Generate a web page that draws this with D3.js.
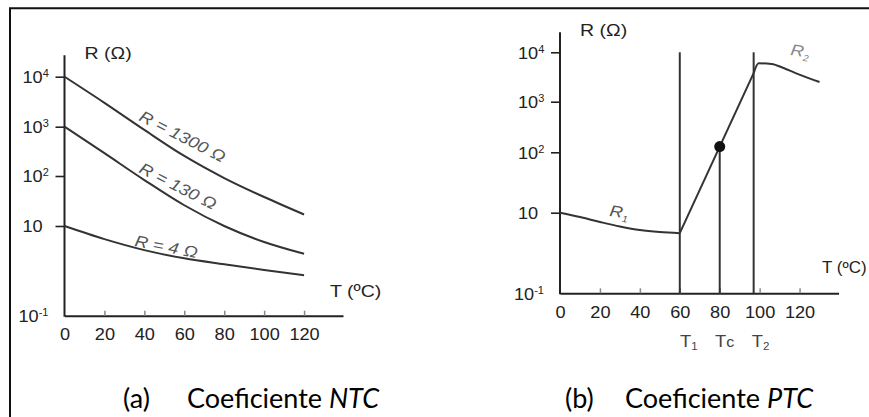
<!DOCTYPE html>
<html>
<head>
<meta charset="utf-8">
<script src="https://cdn.jsdelivr.net/npm/d3@7"></script>
<style>
  body { margin: 0; background: #fff; }
  svg text { font-family: "Liberation Sans", Arial, sans-serif; fill: #222; }
  svg text.caption { font-family: Lato, "Open Sans", sans-serif; fill: #000; }
</style>
</head>
<body>
<script>
// NTC / PTC thermistor curves, R (log) against T

// shared axes
var tempTicks = [0, 20, 40, 60, 80, 100, 120];
var resTicks = [0.1, 10, 100, 1000, 10000];
var resTickBase = ["10", "10", "10", "10", "10"];
var resTickExp = ["-1", "", "2", "3", "4"];

// (a) NTC curves
var ntcTemp = [0, 20, 40, 60, 80, 100, 120];
var ntcR1300 = [10000, 3000, 860, 255, 91, 38, 17];
var ntcR130 = [1000, 290, 83, 26, 10, 4.4, 2.4];
var ntcR4 = [10, 5.1, 2.9, 1.9, 1.4, 1.05, 0.8];
var ntcLabels = ["R = 1300 Ω", "R = 130 Ω", "R = 4 Ω"];

// (b) PTC curve, in three pieces
var ptcLowTemp = [0, 10, 20, 30, 40, 50, 60];
var ptcLowR = [10, 7.8, 5.9, 4.55, 3.7, 3.3, 3.1];
var ptcRiseTemp = [60, 97];
var ptcRiseR = [3.1, 3800];
var ptcHighTemp = [97, 99.5, 106, 112, 118, 130];
var ptcHighR = [3800, 6000, 5800, 4800, 3800, 2500];
var ptcTcTemp = 80, ptcTcR = 130;
var markTemps = [60, 80, 97];
var markSub = ["1", "c", "2"];

var SX = 1.1;   // tick labels, the original figure is a bit wide
var SXL = 1.15; // other labels

var svg = d3.select("body").append("svg")
    .attr("width", 869)
    .attr("height", 417);

// frame (only left and top edges show)
svg.append("path")
    .attr("d", "M10,417V8.3H869")
    .attr("fill", "none")
    .attr("stroke", "#111")
    .attr("stroke-width", 2);

// scales: y works on log10(R)
var xA = d3.scaleLinear().domain([0, 139.5]).range([64.5, 343]);
var yA = d3.scaleLinear().domain([-1, 1, 2, 3, 4]).range([315.7, 226, 176, 126.7, 76.7]);
var xB = d3.scaleLinear().domain([0, 139.5]).range([560, 838.5]);
var yB = d3.scaleLinear().domain([-1, 1, 2, 3, 4]).range([293.3, 212.7, 152.3, 101.7, 52.3]);

function drawAxes(x, y, ext) {
  var g = svg.append("g");

  // x axis, small ticks pointing up
  var xg = g.append("g")
      .attr("transform", "translate(0," + y(-1) + ")")
      .call(d3.axisBottom(x).tickValues(tempTicks).tickSize(-5).tickSizeOuter(0).tickPadding(12.5))
      .attr("font-family", null).attr("font-size", 16.5);
  xg.select(".domain").attr("stroke", "#222").attr("stroke-width", 2);
  xg.selectAll(".tick line").attr("stroke", "#888").attr("stroke-width", 1.5)
      .filter(function(d) { return d === 0; }).remove();
  xg.selectAll(".tick text").attr("fill", null).attr("transform", "scale(" + SX + ",1)");

  // y axis
  var yg = g.append("g")
      .attr("transform", "translate(" + x(0) + ",0)")
      .call(d3.axisLeft(y).tickValues(resTicks.map(Math.log10)).tickSize(9).tickSizeOuter(0))
      .attr("font-family", null).attr("font-size", 16.5);
  yg.select(".domain").remove();
  yg.append("line")
      .attr("y1", y(-1) + 1).attr("y2", y(4) - ext)
      .attr("stroke", "#222").attr("stroke-width", 2);
  yg.selectAll(".tick line").attr("stroke", "#222").attr("stroke-width", 1.6)
      .filter(function(d) { return d === -1; }).remove();
  yg.selectAll(".tick text").each(function(d, i) {
    var t = d3.select(this).text(null)
        .attr("fill", null)
        .attr("text-anchor", "start")
        .attr("x", (i === 0 ? -46 : -42) / SX)
        .attr("dy", "0.36em")
        .attr("transform", "scale(" + SX + ",1)");
    t.append("tspan").text(resTickBase[i]);
    if (resTickExp[i]) {
      t.append("tspan").text(resTickExp[i]).attr("font-size", 10).attr("dy", -6);
    }
  });

  // axis name
  g.append("text")
      .attr("transform", "translate(" + (x(0) + 20) + "," + (y(4) - ext + 4) + ") scale(" + SXL + ",1)")
      .attr("font-size", 17)
      .text("R (Ω)");
  return g;
}

// ---------- (a) NTC ----------
var gA = drawAxes(xA, yA, 21.5);
gA.append("text")
    .attr("transform", "translate(330," + (yA(-1) - 19) + ") scale(" + SXL + ",1)")
    .attr("font-size", 17)
    .text("T (ºC)");

var lineA = d3.line()
    .x(function(d) { return xA(d[0]); })
    .y(function(d) { return yA(Math.log10(d[1])); })
    .curve(d3.curveMonotoneX);

[ntcR1300, ntcR130, ntcR4].forEach(function(series) {
  gA.append("path")
      .datum(d3.zip(ntcTemp, series))
      .attr("d", lineA)
      .attr("fill", "none")
      .attr("stroke", "#333")
      .attr("stroke-width", 2);
});

// curve labels, italic and slanted along the curves
var labelPos = [[138, 120, 27], [138, 172, 27], [134, 246, 11]];
ntcLabels.forEach(function(s, i) {
  var p = labelPos[i];
  gA.append("text")
      .attr("transform", "translate(" + p[0] + "," + p[1] + ") rotate(" + p[2] + ") scale(" + SXL + ",1)")
      .attr("font-size", 16)
      .attr("font-style", "italic")
      .style("fill", "#555")
      .text(s);
});

// ---------- (b) PTC ----------
var gB = drawAxes(xB, yB, 20);
// squeezed a little so it stays inside the page
gB.append("text")
    .attr("transform", "translate(822," + (yB(-1) - 20) + ") scale(1.03,1)")
    .attr("font-size", 16.5)
    .text("T (ºC)");

var lineB = d3.line()
    .x(function(d) { return xB(d[0]); })
    .y(function(d) { return yB(Math.log10(d[1])); })
    .curve(d3.curveMonotoneX);

[[ptcLowTemp, ptcLowR], [ptcRiseTemp, ptcRiseR], [ptcHighTemp, ptcHighR]].forEach(function(p) {
  gB.append("path")
      .datum(d3.zip(p[0], p[1]))
      .attr("d", lineB)
      .attr("fill", "none")
      .attr("stroke", "#333")
      .attr("stroke-width", 2)
      .attr("stroke-linejoin", "round");
});

// T1 and T2 full height lines, Tc from the point down
gB.selectAll(".mark")
    .data(markTemps)
  .enter().append("line")
    .attr("x1", function(d) { return xB(d); })
    .attr("x2", function(d) { return xB(d); })
    .attr("y1", function(d) { return d === ptcTcTemp ? yB(Math.log10(ptcTcR)) : yB(4); })
    .attr("y2", yB(-1))
    .attr("stroke", "#333")
    .attr("stroke-width", 2);

gB.append("circle")
    .attr("cx", xB(ptcTcTemp))
    .attr("cy", yB(Math.log10(ptcTcR)))
    .attr("r", 5.5)
    .attr("fill", "#111");

// T1, Tc, T2 under the axis
var markDx = [9, 5, 7];
markTemps.forEach(function(t, i) {
  var txt = gB.append("text")
      .attr("transform", "translate(" + (xB(t) + markDx[i]) + "," + (yB(-1) + 54) + ") scale(" + SXL + ",1)")
      .attr("text-anchor", "middle")
      .attr("font-size", 16)
      .style("fill", "#444");
  txt.append("tspan").text("T");
  if (isNaN(+markSub[i])) {
    txt.append("tspan").text(markSub[i]).attr("font-size", 14);
  } else {
    txt.append("tspan").text(markSub[i]).attr("font-size", 10).attr("dy", 3);
  }
});

// R1 and R2 labels
function rLabel(x, y, sub, col) {
  var t = gB.append("text")
      .attr("transform", "translate(" + x + "," + y + ") rotate(8) scale(" + SXL + ",1)")
      .attr("font-size", 16)
      .attr("font-style", "italic")
      .style("fill", col);
  t.append("tspan").text("R");
  t.append("tspan").text(sub).attr("font-size", 9).attr("dy", 4);
}
rLabel(609, 216, "1", "#555");
rLabel(790, 55, "2", "#888");

// ---------- captions ----------
function caption(x1, x2, tag, name) {
  svg.append("text").attr("class", "caption")
      .attr("x", x1).attr("y", 408)
      .attr("font-size", 27)
      .text(tag);
  var t = svg.append("text").attr("class", "caption")
      .attr("x", x2).attr("y", 408)
      .attr("font-size", 27);
  t.append("tspan").text("Coeficiente ");
  t.append("tspan").attr("font-style", "italic").text(name);
}
caption(123, 187, "(a)", "NTC");
caption(565, 625, "(b)", "PTC");
</script>
</body>
</html>
